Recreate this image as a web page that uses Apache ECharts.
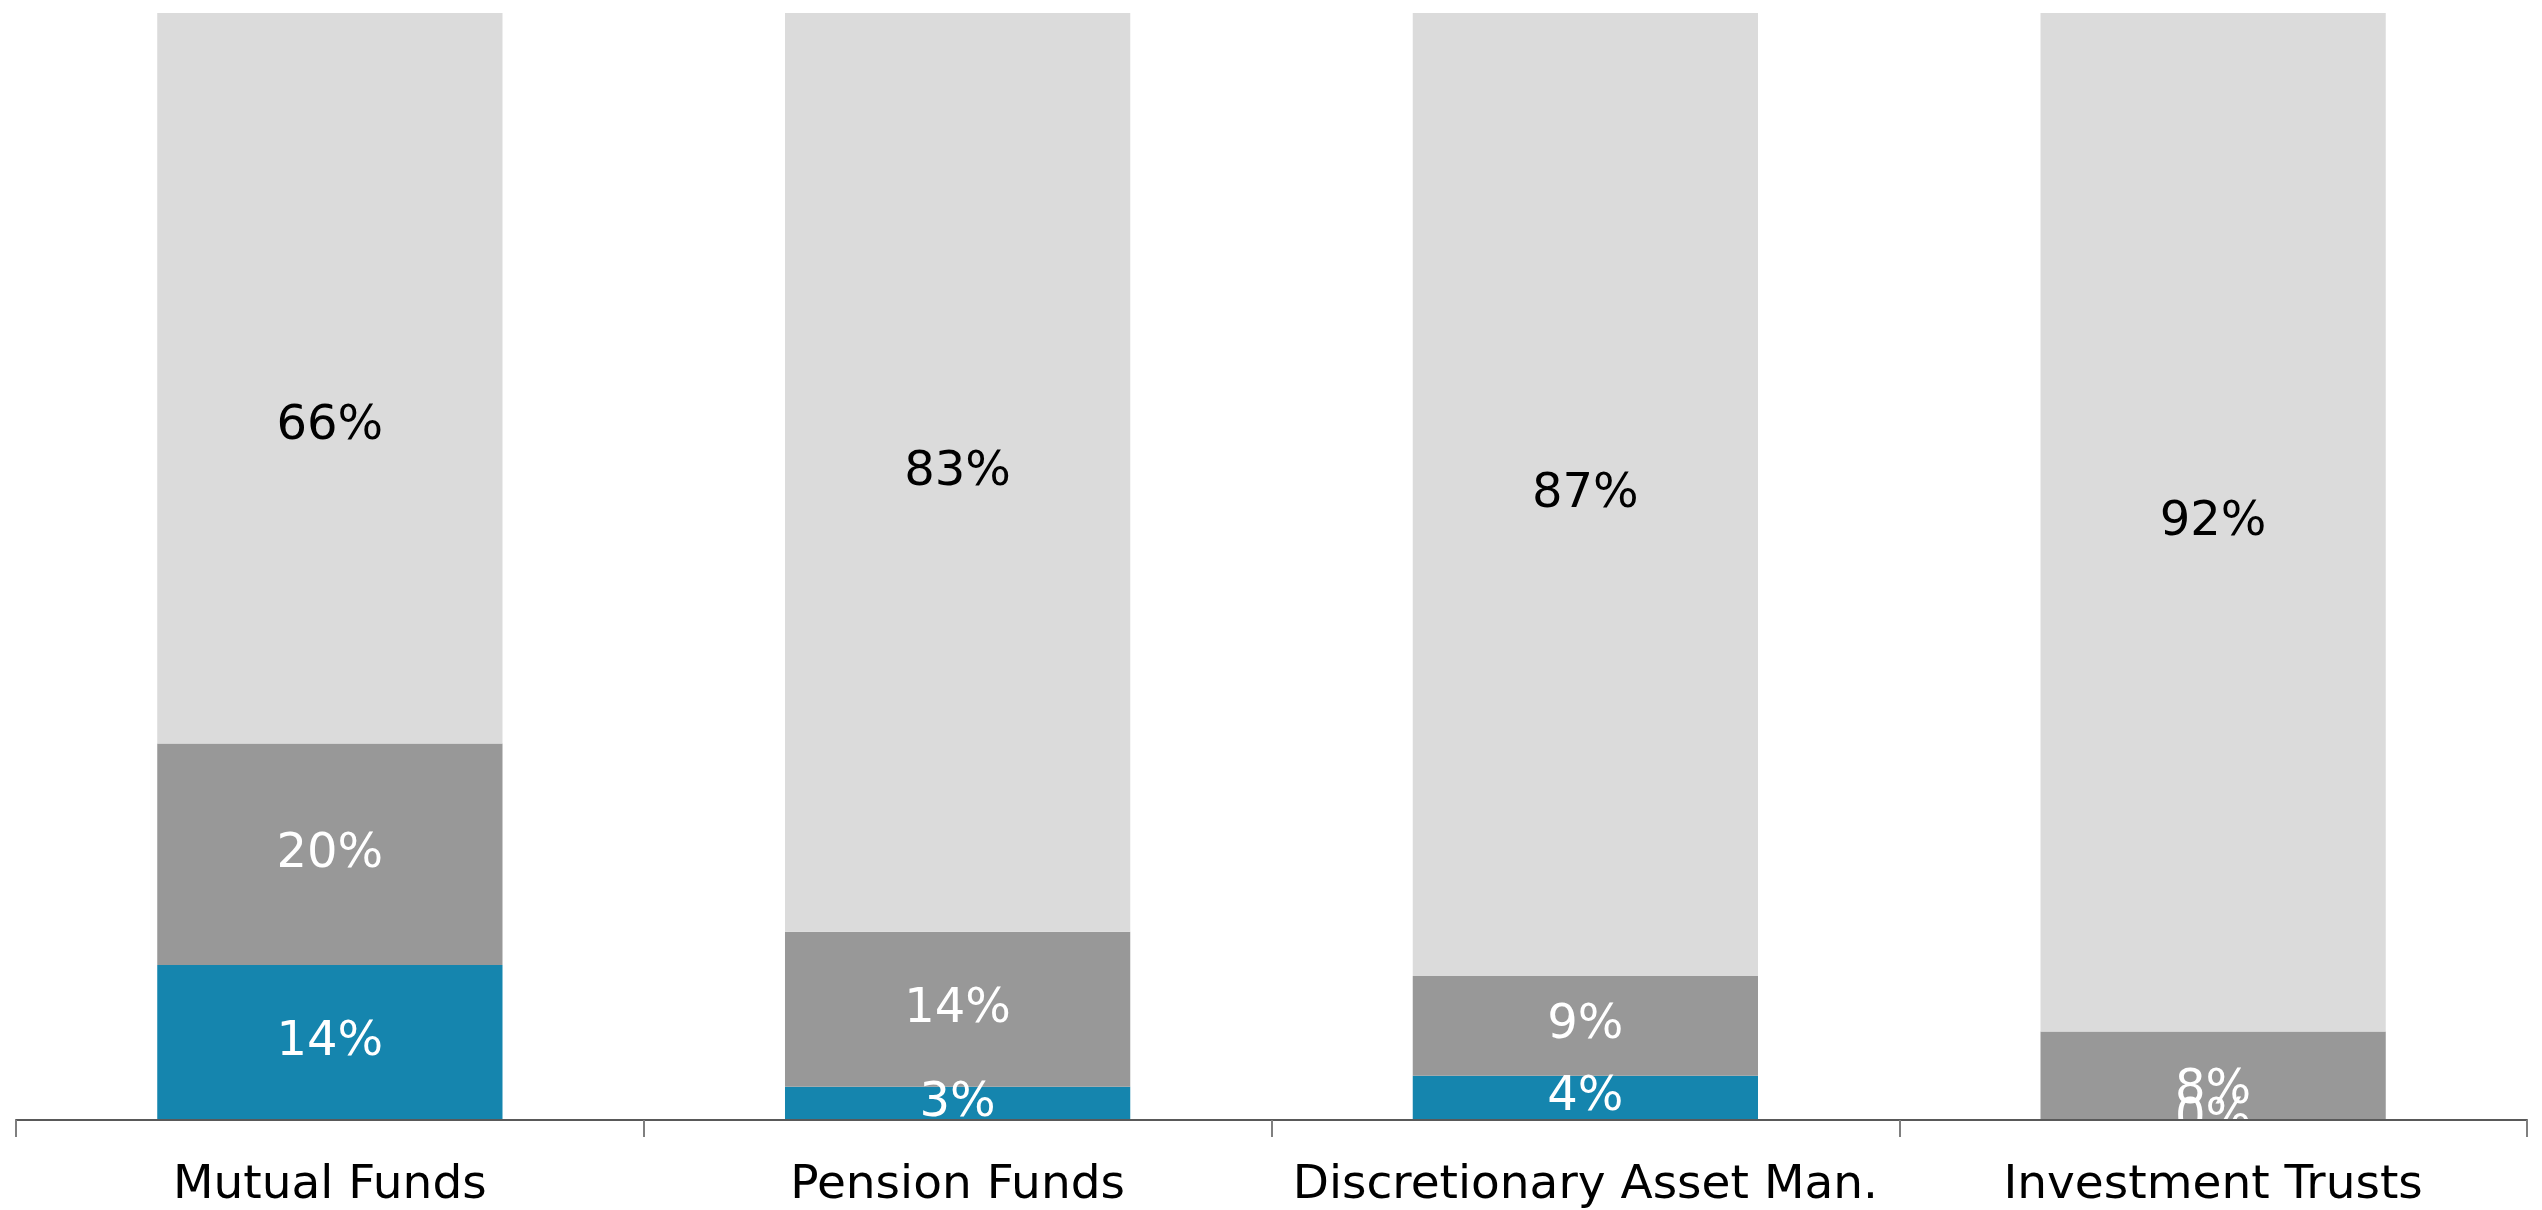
<!DOCTYPE html>
<html>
<head>
<meta charset="utf-8">
<title>Investor type breakdown</title>
<script src="https://cdn.jsdelivr.net/npm/echarts@6/dist/echarts.min.js"></script>
<style>
  html, body { margin: 0; padding: 0; background: #ffffff; }
  #chart { width: 2542px; height: 1210px; }
</style>
</head>
<body>
<div id="chart"></div>
<script>
// Categories along the x axis
const categories = ['Mutual Funds', 'Pension Funds', 'Discretionary Asset Man.', 'Investment Trusts'];

// Stacked shares (percent), bottom to top
const bottomShare = [14, 3, 4, 0];
const middleShare = [20, 14, 9, 8];
const topShare = [66, 83, 87, 92];

const FONT = '"DejaVu Sans", Verdana, sans-serif';

// Hand-placed label nudges (series key -> category index -> [dx, dy])
const labelNudge = {
  top: { 0: [0, 48] },
  middle: { 3: [0, 15] }
};

function buildData(values, key) {
  return values.map((v, i) => {
    const nudge = labelNudge[key] && labelNudge[key][i];
    return nudge ? { value: v, label: { offset: nudge } } : v;
  });
}

function barSeries(name, key, values, color, textColor) {
  return {
    name: name,
    type: 'bar',
    stack: 'share',
    barWidth: '55%',
    data: buildData(values, key),
    itemStyle: { color: color },
    label: {
      show: true,
      position: 'inside',
      formatter: '{c}%',
      color: textColor,
      fontFamily: FONT,
      fontSize: 48
    },
    emphasis: { disabled: true }
  };
}

const chart = echarts.init(document.getElementById('chart'), null, { renderer: 'canvas' });

chart.setOption({
  animation: false,
  backgroundColor: '#ffffff',
  grid: { left: 16, right: 15, top: 13, bottom: 90, containLabel: false },
  xAxis: {
    type: 'category',
    data: categories,
    z: 200,
    axisLine: { lineStyle: { color: '#595959', width: 2 } },
    axisTick: { show: true, length: 17, lineStyle: { color: '#7f7f7f', width: 2 } },
    axisLabel: {
      color: '#000000',
      fontFamily: FONT,
      fontSize: 47,
      margin: 42,
      interval: 0
    }
  },
  yAxis: {
    type: 'value',
    min: 0,
    max: 100,
    show: false,
    splitLine: { show: false }
  },
  // white band below the axis line keeps bar labels inside the plot area
  graphic: [{
    type: 'rect',
    left: 0,
    bottom: 0,
    z: 100,
    shape: { width: 2542, height: 89 },
    style: { fill: '#ffffff' },
    silent: true
  }],
  series: [
    barSeries('Bottom', 'bottom', bottomShare, '#1585ae', '#ffffff'),
    barSeries('Middle', 'middle', middleShare, '#989898', '#ffffff'),
    barSeries('Top', 'top', topShare, '#dbdbdb', '#000000')
  ]
});
</script>
</body>
</html>
